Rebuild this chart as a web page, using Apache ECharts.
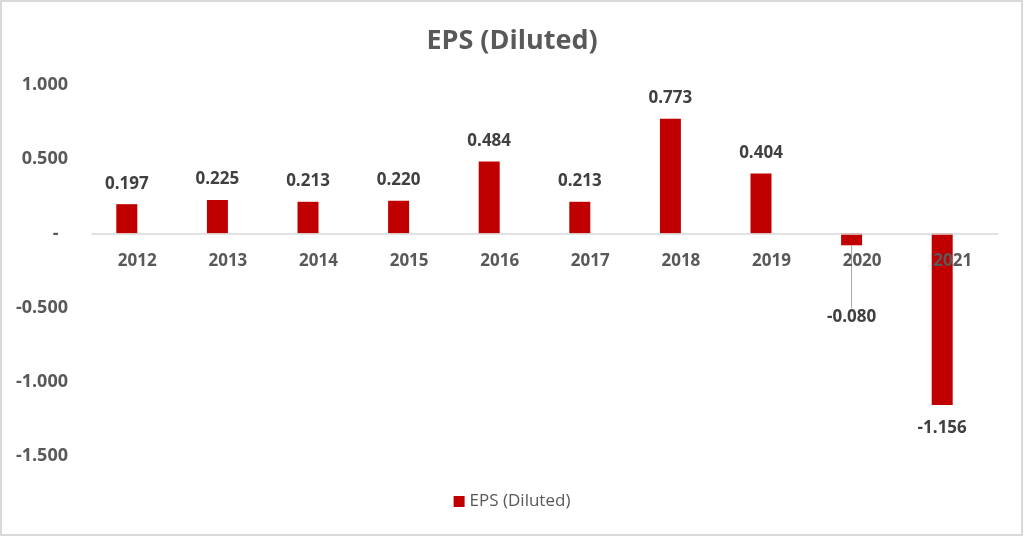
<!DOCTYPE html>
<html>
<head>
<meta charset="utf-8">
<script src="https://cdn.jsdelivr.net/npm/echarts@6/dist/echarts.min.js"></script>
<style>
  html, body { margin: 0; padding: 0; background: #fff; }
  #chart { width: 1024px; height: 536px; }
</style>
</head>
<body>
<div id="chart"></div>
<script>
// data
var years = ['2012', '2013', '2014', '2015', '2016', '2017', '2018', '2019', '2020', '2021'];
var eps = [0.197, 0.225, 0.213, 0.220, 0.484, 0.213, 0.773, 0.404, -0.080, -1.156];
var yTicks = [-1.5, -1.0, -0.5, 0, 0.5, 1.0];

var myChart = echarts.init(document.getElementById('chart'));

var seriesData = eps.map(function (v, i) {
  var item = {
    value: v,
    label: { position: v < 0 ? 'bottom' : 'top', distance: v < 0 ? 15 : 12 }
  };
  if (i === 8) {
    // 2020 label pushed down with a leader line, like the original
    item.labelLine = { show: true, lineStyle: { color: '#A6A6A6', width: 1 } };
  }
  return item;
});

var option = {
  backgroundColor: '#fff',
  animation: false,
  title: {
    text: 'EPS (Diluted)',
    left: 'center',
    top: 23,
    textStyle: {
      color: '#595959',
      fontFamily: 'Open Sans',
      fontWeight: 'bold',
      fontSize: 27
    }
  },
  legend: {
    bottom: 21,
    left: 'center',
    data: ['EPS (Diluted)'],
    icon: 'rect',
    itemWidth: 11,
    itemHeight: 11,
    itemGap: 5,
    textStyle: {
      color: '#595959',
      fontFamily: 'Open Sans',
      fontWeight: 500,
      fontSize: 17
    }
  },
  grid: {
    left: 92,
    right: 26,
    top: 85,
    bottom: 80
  },
  xAxis: {
    type: 'category',
    data: years,
    z: 5,
    axisLine: { onZero: false, lineStyle: { color: '#D9D9D9', width: 1.5 } },
    axisTick: { show: false },
    axisLabel: {
      margin: 19,
      color: '#595959',
      fontFamily: 'Open Sans',
      fontWeight: 'bold',
      fontSize: 17
    }
  },
  yAxis: {
    type: 'value',
    min: yTicks[0],
    max: yTicks[yTicks.length - 1],
    interval: 0.5,
    splitLine: { show: false },
    axisLine: { show: false },
    axisTick: { show: false },
    axisLabel: {
      margin: 24,
      color: '#595959',
      fontFamily: 'Open Sans',
      fontWeight: 'bold',
      fontSize: 18,
      formatter: function (v) {
        return v === 0 ? '-  ' : v.toFixed(3);
      }
    }
  },
  graphic: [{
    type: 'rect',
    shape: { x: 1, y: 1, width: 1021, height: 534 },
    style: { fill: 'none', stroke: '#D9D9D9', lineWidth: 2 },
    silent: true
  }],
  series: [{
    name: 'EPS (Diluted)',
    type: 'bar',
    barWidth: 21,
    barGap: '0%',
    data: seriesData,
    itemStyle: { color: '#C00000' },
    label: {
      show: true,
      color: '#404040',
      fontFamily: 'Open Sans',
      fontWeight: 'bold',
      fontSize: 17,
      formatter: function (p) { return p.value.toFixed(3); }
    },
    labelLine: { show: false },
    labelLayout: function (p) {
      if (p.dataIndex === 8) {
        return { dy: 48 };
      }
    }
  }, {
    // empty slot so the bars sit left of the category centre as in the original
    name: 'blank',
    type: 'bar',
    barWidth: 21,
    data: []
  }]
};

myChart.setOption(option);

// move the category axis (line and labels) up to the zero line
var zeroY = myChart.convertToPixel({ yAxisIndex: 0 }, 0);
var bottomY = myChart.convertToPixel({ yAxisIndex: 0 }, yTicks[0]);
myChart.setOption({ xAxis: { offset: zeroY - bottomY } });
</script>
</body>
</html>
